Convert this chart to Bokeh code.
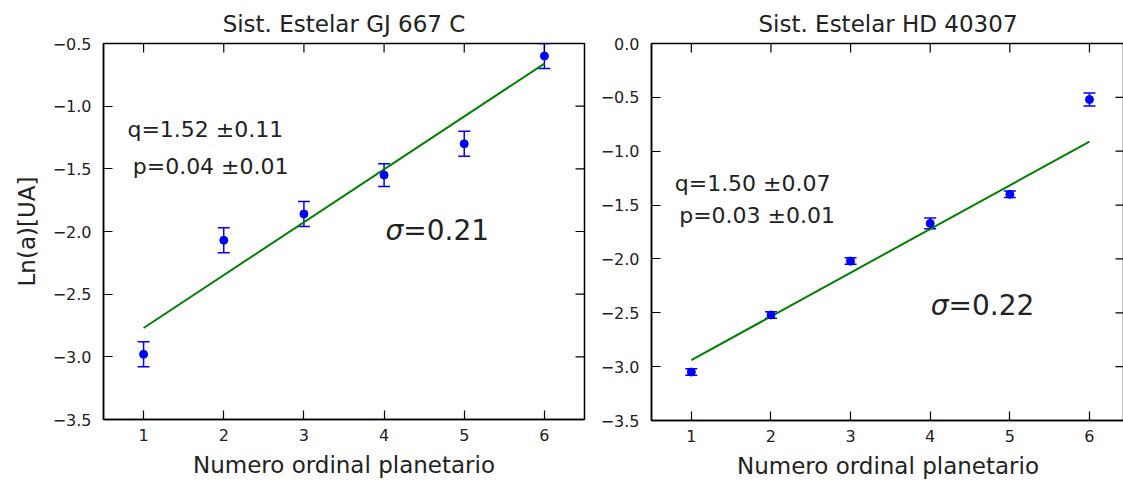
import math
from bokeh.plotting import figure
from bokeh.models import (ColumnDataSource, FixedTicker, Whisker,
                          TeeHead, Label, Range1d)
from bokeh.layouts import row
from bokeh.embed import file_html
from bokeh.resources import INLINE

FONT = "DejaVu Sans"

# ---------------- data ----------------
planet_n = [1, 2, 3, 4, 5, 6]

gj_title = "Sist. Estelar GJ 667 C"
gj_ln_a = [-2.98, -2.07, -1.86, -1.55, -1.30, -0.60]
gj_err = [0.10, 0.10, 0.10, 0.09, 0.10, 0.10]
gj_fit_x = [1, 6]
gj_fit_y = [-2.77, -0.66]
gj_q_text = "q=1.52 ±0.11"
gj_p_text = " p=0.04 ±0.01"
gj_sigma_text = "=0.21"

hd_title = "Sist. Estelar HD 40307"
hd_ln_a = [-3.05, -2.52, -2.02, -1.67, -1.40, -0.52]
hd_err = [0.03, 0.03, 0.03, 0.05, 0.03, 0.06]
hd_fit_x = [1, 6]
hd_fit_y = [-2.94, -0.91]
hd_q_text = "q=1.50 ±0.07"
hd_p_text = " p=0.03 ±0.01"
hd_sigma_text = "=0.22"

x_ticks = [1, 2, 3, 4, 5, 6]
x_tick_labels = ["1", "2", "3", "4", "5", "6"]
gj_y_ticks = [-3.5, -3.0, -2.5, -2.0, -1.5, -1.0, -0.5]
gj_y_tick_labels = ["−3.5", "−3.0", "−2.5", "−2.0", "−1.5", "−1.0", "−0.5"]
hd_y_ticks = [-3.5, -3.0, -2.5, -2.0, -1.5, -1.0, -0.5, 0.0]
hd_y_tick_labels = ["−3.5", "−3.0", "−2.5", "−2.0", "−1.5", "−1.0", "−0.5", "0.0"]

x_label = "Numero ordinal planetario"
y_label = "Ln(a)[UA]"


def style_axis(ax, ticks, labels, is_x):
    ax.ticker = FixedTicker(ticks=ticks)
    ax.major_label_overrides = {t: l for t, l in zip(ticks, labels)}
    ax.major_tick_in = 9
    ax.major_tick_out = 0
    ax.minor_tick_in = 0
    ax.minor_tick_out = 0
    ax.axis_line_color = "black"
    ax.axis_line_width = 1.5
    ax.major_tick_line_color = "black"
    ax.major_tick_line_width = 1.2
    ax.major_label_text_font = FONT
    ax.major_label_text_font_size = "16px"
    ax.major_label_text_color = "#222222"
    ax.major_label_standoff = 9 if is_x else 12
    ax.axis_label_text_font = FONT
    ax.axis_label_text_font_size = "23px"
    ax.axis_label_text_font_style = "normal"
    ax.axis_label_text_color = "#222222"


def make_panel(title, ln_a, err, fit_x, fit_y, y_ticks, y_labels, y_range,
               x_end, frame_w, frame_h, border_l, border_r, border_b,
               q_text, p_text, s_text, q_pos, p_pos, s_pos, with_ylabel):
    p = figure(frame_width=frame_w, frame_height=frame_h,
               x_range=Range1d(0.5, x_end), y_range=Range1d(*y_range),
               output_backend="svg", toolbar_location=None,
               min_border_left=border_l, min_border_right=border_r,
               min_border_top=43, min_border_bottom=border_b,
               title=title)
    p.title.text_font = FONT
    p.title.text_font_size = "23px"
    p.title.text_font_style = "normal"
    p.title.text_color = "#222222"
    p.title.align = "center"
    p.title.standoff = 14
    p.xgrid.visible = False
    p.ygrid.visible = False
    p.outline_line_color = "black"
    p.outline_line_width = 1.5
    p.background_fill_color = "white"
    p.border_fill_color = "white"

    style_axis(p.xaxis[0], x_ticks, x_tick_labels, True)
    style_axis(p.yaxis[0], y_ticks, y_labels, False)
    p.xaxis[0].axis_label = x_label
    p.xaxis[0].axis_label_standoff = 8
    if with_ylabel:
        p.yaxis[0].axis_label = y_label
        p.yaxis[0].axis_label_standoff = 10

    # mirrored inward ticks on top and right edges (clipped to the frame)
    p.scatter(x_ticks, [y_range[1]] * len(x_ticks), marker="dash", size=18,
              angle=math.pi / 2, line_color="black", line_width=1.2)
    p.scatter([x_end] * len(y_ticks), y_ticks, marker="dash", size=18,
              angle=0, line_color="black", line_width=1.2)

    src = ColumnDataSource(dict(
        x=planet_n, y=ln_a,
        upper=[v + e for v, e in zip(ln_a, err)],
        lower=[v - e for v, e in zip(ln_a, err)]))

    p.line(fit_x, fit_y, line_color="#008000", line_width=2)
    wh = Whisker(base="x", upper="upper", lower="lower", source=src,
                 line_color="#0000ff", line_width=1.5,
                 upper_head=TeeHead(size=12, line_color="#0000ff", line_width=1.5),
                 lower_head=TeeHead(size=12, line_color="#0000ff", line_width=1.5))
    p.add_layout(wh)
    p.scatter("x", "y", source=src, size=8, color="#0000ff", marker="circle")

    for txt, pos in ((q_text, q_pos), (p_text, p_pos)):
        p.add_layout(Label(x=pos[0], y=pos[1], text=txt, text_font=FONT,
                           text_font_size="22px", text_color="#222222",
                           text_align="center", text_baseline="middle"))
    p.add_layout(Label(x=s_pos[0], y=s_pos[1], text="σ", text_font=FONT,
                       text_font_style="italic",
                       text_font_size="28px", text_color="#222222",
                       text_align="right", text_baseline="middle"))
    p.add_layout(Label(x=s_pos[0], y=s_pos[1], text=s_text, text_font=FONT,
                       text_font_size="28px", text_color="#222222",
                       text_align="left", text_baseline="middle"))
    return p


p1 = make_panel(gj_title, gj_ln_a, gj_err, gj_fit_x, gj_fit_y,
                gj_y_ticks, gj_y_tick_labels, (-3.5, -0.5), 6.5,
                481, 376, 103, 13, 63,
                gj_q_text, gj_p_text, gj_sigma_text,
                (1.77, -1.19), (1.88, -1.48), (4.24, -1.99), True)

p2 = make_panel(hd_title, hd_ln_a, hd_err, hd_fit_x, hd_fit_y,
                hd_y_ticks, hd_y_tick_labels, (-3.5, 0.0), 6.44,
                473, 377, 53, 0, 62,
                hd_q_text, hd_p_text, hd_sigma_text,
                (1.77, -1.30), (1.87, -1.60), (4.23, -2.43), False)

layout = row(p1, p2)
open("out.html", "w").write(file_html(layout, INLINE))
